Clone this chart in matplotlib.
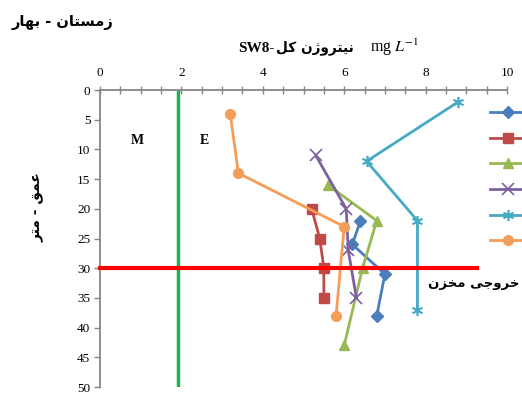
import matplotlib
matplotlib.use("Agg")
import matplotlib.pyplot as plt
from matplotlib.ticker import MultipleLocator

plt.rcParams['mathtext.fontset'] = 'stix'

# ---- data (depth in m, total nitrogen mg/L) ----
series_names = ["S1", "S2", "S3", "S4", "S5", "S6"]
blue_depth = [22, 26, 31, 38]
blue_val = [6.4, 6.2, 7.0, 6.8]
red_depth = [20, 25, 30, 35]
red_val = [5.2, 5.4, 5.5, 5.5]
green_depth = [16, 22, 30, 43]
green_val = [5.6, 6.8, 6.45, 6.0]
purple_depth = [11, 20, 27, 35]
purple_val = [5.3, 6.05, 6.1, 6.3]
cyan_depth = [2, 12, 22, 37]
cyan_val = [8.8, 6.55, 7.8, 7.8]
orange_depth = [4, 14, 23, 38]
orange_val = [3.2, 3.4, 6.0, 5.8]

green_line_x = 1.92
outlet_depth = 30
outlet_xmax = 9.26

x_ticks = [0, 2, 4, 6, 8, 10]
y_ticks = [0, 5, 10, 15, 20, 25, 30, 35, 40, 45, 50]

# Persian labels (pre-shaped presentation forms in visual order)
title_txt = "\uFEAD\uFE8E\uFEEC\uFE91 - \uFEE5\uFE8E\uFE98\uFEB4\uFEE3\uFEAF"
ylabel_txt = "\uFEAE\uFE98\uFEE3 - \uFED6\uFEE4\uFECB"
xlabel_ar = "\uFEDE\uFEDB \uFEE5\uFB8A\uFEED\uFEAE\uFE98\uFBFF\uFEE7"
outlet_txt = "\uFEE5\uFEB0\uFEA8\uFEE3 \uFBFD\uFE9F\uFEED\uFEAE\uFEA7"

colors = ["#4A7EBB", "#BE4B48", "#98B954", "#7D60A0", "#46AAC5", "#F59D56"]
markers = ["D", "s", "^", "x", (6, 2, 0), "o"]
msizes = [6, 7, 7, 8, 8, 7]

fig = plt.figure(figsize=(5.22, 3.98), dpi=100)
ax = fig.add_axes([100/522, 1-387/398, 407/522, 297/398])

data = [(blue_val, blue_depth), (red_val, red_depth), (green_val, green_depth),
        (purple_val, purple_depth), (cyan_val, cyan_depth), (orange_val, orange_depth)]
handles = []
for (v, d), c, m, n, ms in zip(data, colors, markers, series_names, msizes):
    mew = 1.2 if (m == "x" or isinstance(m, tuple)) else 1.0
    h, = ax.plot(v, d, color=c, lw=2.0, marker=m, ms=ms, mec=c, mfc=c, mew=mew,
                 zorder=3, label=n)
    handles.append(h)

ax.axvline(green_line_x, color="#22B14C", lw=2.5, zorder=2)
ax.plot([0, outlet_xmax], [outlet_depth, outlet_depth], color="#FF0000", lw=3.0,
        zorder=4, clip_on=False)

ax.set_xlim(0, 10)
ax.set_ylim(50, 0)
ax.xaxis.tick_top()
ax.set_xticks(x_ticks)
ax.set_yticks(y_ticks)
ax.xaxis.set_minor_locator(MultipleLocator(0.5))
gray = "#868686"
for s in ["right", "bottom"]:
    ax.spines[s].set_visible(False)
for s in ["left", "top"]:
    ax.spines[s].set_color(gray)
    ax.spines[s].set_linewidth(1.3)
ax.tick_params(axis="x", which="both", direction="inout", length=6, width=1.0,
               color=gray, labelsize=9.5, pad=5)
ax.tick_params(axis="y", which="major", direction="out", length=4, width=1.0,
               color=gray, labelsize=9.5, pad=3)
for lbl in ax.get_xticklabels() + ax.get_yticklabels():
    lbl.set_fontfamily("Liberation Serif")

ax.text(0.93, 8.5, "M", fontsize=10, fontweight="bold", family="Liberation Serif",
        ha="center", va="center")
ax.text(2.56, 8.5, "E", fontsize=10, fontweight="bold", family="Liberation Serif",
        ha="center", va="center")

fig.text(12/522, 1-22/398, title_txt, fontsize=10.5, fontweight="bold",
         family="DejaVu Sans", ha="left", va="center")
fig.text(238/522, 1-48/398, "SW8-", fontsize=11, fontweight="bold",
         family="Liberation Serif", ha="left", va="center")
fig.text(276/522, 1-48/398, xlabel_ar, fontsize=9.8, fontweight="bold",
         family="DejaVu Sans", ha="left", va="center")
fig.text(370/522, 1-47/398, r"mg $L^{-1}$", fontsize=11.5,
         family="Liberation Serif", ha="left", va="center")
fig.text(37/522, 1-207/398, ylabel_txt, fontsize=10, fontweight="bold",
         family="DejaVu Sans", rotation=90, ha="center", va="center")
fig.text(474/522, 1-283/398, outlet_txt, fontsize=9.5, fontweight="bold",
         family="DejaVu Sans", ha="center", va="center")

leg = fig.legend(handles, [""] * 6, loc="upper left",
                 bbox_to_anchor=(490/522, 1-106/398), frameon=False,
                 handlelength=2.6, labelspacing=0.835, fontsize=10,
                 borderpad=0, borderaxespad=0, handletextpad=0.2)

fig.savefig("out.png", dpi=100)
